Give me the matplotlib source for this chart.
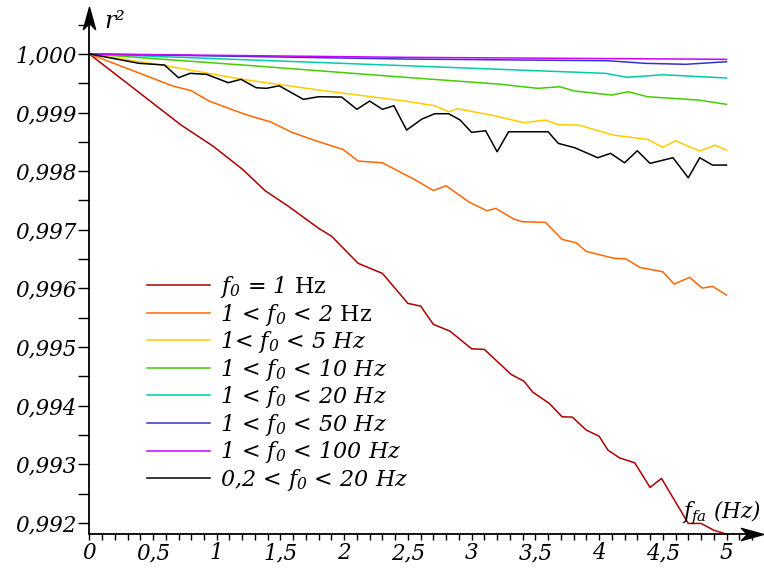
import numpy as np
import matplotlib
matplotlib.use("Agg")
import matplotlib.pyplot as plt
from matplotlib.path import Path
from matplotlib.ticker import MultipleLocator, FuncFormatter

plt.rcParams['font.family'] = 'DejaVu Serif'
plt.rcParams['font.style'] = 'italic'
plt.rcParams['mathtext.fontset'] = 'custom'
plt.rcParams['mathtext.rm'] = 'DejaVu Serif:style=italic'
plt.rcParams['mathtext.it'] = 'DejaVu Serif:style=italic'
plt.rcParams['mathtext.sf'] = 'DejaVu Serif:style=normal'

# data (x in Hz, y = r^2)
x_red = [0, 0.72, 0.97, 1.2, 1.38, 1.56, 1.8, 1.9, 2.11, 2.3, 2.5, 2.6, 2.7, 2.83, 3.0,
         3.1, 3.31, 3.41, 3.48, 3.61, 3.71, 3.79, 3.9, 4.0, 4.07, 4.16, 4.28, 4.4, 4.49,
         4.7, 4.8, 4.9, 5.0]
y_red = [1.0, 0.998787, 0.998428, 0.998036, 0.997666, 0.997404, 0.997024, 0.996892,
         0.996427, 0.996256, 0.995744, 0.995698, 0.995386, 0.995271, 0.994969, 0.994959,
         0.994532, 0.994418, 0.99423, 0.994037, 0.993809, 0.993804, 0.993582, 0.993479,
         0.99324, 0.993109, 0.993024, 0.992604, 0.992758, 0.99199, 0.99199, 0.991875,
         0.991807]

x_orange = [0, 0.65, 0.8, 0.94, 1.2, 1.31, 1.42, 1.59, 1.8, 1.99, 2.11, 2.3, 2.56, 2.7,
            2.8, 2.98, 3.12, 3.19, 3.33, 3.4, 3.58, 3.71, 3.82, 3.9, 4.12, 4.21, 4.32,
            4.5, 4.59, 4.71, 4.81, 4.89, 5.0]
y_orange = [1.0, 0.999457, 0.999372, 0.999196, 0.998986, 0.998911, 0.998843, 0.998662,
            0.998502, 0.998372, 0.998172, 0.998143, 0.997848, 0.997669, 0.997751,
            0.997473, 0.997324, 0.997365, 0.997183, 0.997137, 0.997126, 0.996836,
            0.996778, 0.996631, 0.996512, 0.996505, 0.996358, 0.996283, 0.996073,
            0.996188, 0.996005, 0.996034, 0.995886]

x_yellow = [0, 0.6, 1.2, 1.8, 2.48, 2.71, 2.82, 2.89, 3.18, 3.41, 3.58, 3.68, 3.84,
            4.11, 4.38, 4.5, 4.6, 4.79, 4.91, 5.0]
y_yellow = [1.0, 0.999799, 0.999567, 0.999384, 0.999196, 0.999116, 0.999014, 0.999065,
            0.998945, 0.998826, 0.998872, 0.998792, 0.998787, 0.998616, 0.998543,
            0.998406, 0.998519, 0.998343, 0.998445, 0.998355]

x_green = [0, 1.28, 2.48, 3.21, 3.52, 3.69, 3.81, 4.1, 4.23, 4.38, 4.78, 5.0]
y_green = [1.0, 0.999799, 0.999601, 0.999486, 0.999413, 0.99944, 0.999367, 0.999299,
           0.999355, 0.99927, 0.999213, 0.99914]

x_cyan = [0, 2.48, 4.05, 4.22, 4.5, 5.0]
y_cyan = [1.0, 0.999799, 0.999669, 0.999601, 0.999645, 0.999589]

x_blue = [0, 2.48, 4.07, 4.36, 4.68, 5.0]
y_blue = [1.0, 0.999913, 0.999884, 0.99984, 0.999823, 0.999867]

x_magenta = [0, 2.48, 5.0]
y_magenta = [1.0, 0.999942, 0.999908]

x_black = [0, 0.39, 0.59, 0.7, 0.79, 0.92, 1.09, 1.19, 1.31, 1.39, 1.49, 1.68, 1.8,
           1.98, 2.1, 2.2, 2.3, 2.39, 2.49, 2.61, 2.71, 2.82, 2.91, 3.0, 3.11, 3.2,
           3.29, 3.6, 3.68, 3.81, 3.99, 4.09, 4.2, 4.3, 4.4, 4.58, 4.7, 4.79, 4.89, 5.0]
y_black = [1.0, 0.99984, 0.999811, 0.999594, 0.999669, 0.999652, 0.999509, 0.999567,
           0.999423, 0.999413, 0.999457, 0.999225, 0.99927, 0.999264, 0.999055,
           0.999196, 0.999055, 0.999116, 0.998701, 0.998889, 0.99898, 0.99898,
           0.998872, 0.998662, 0.998689, 0.998331, 0.998672, 0.998672, 0.998474,
           0.998399, 0.998229, 0.998304, 0.998143, 0.998348, 0.998133, 0.998229,
           0.997887, 0.998229, 0.998104, 0.998104]

labels = [r'$f_0$ = 1 $\mathsf{Hz}$',
          r'1 < $f_0$ < 2 $\mathsf{Hz}$',
          r'1< $f_0$ < 5 Hz',
          r'1 < $f_0$ < 10 Hz',
          r'1 < $f_0$ < 20 Hz',
          r'1 < $f_0$ < 50 Hz',
          r'1 < $f_0$ < 100 Hz',
          r'0,2 < $f_0$ < 20 Hz']
colors = ['#aa0000', '#ff6600', '#ffcc00', '#44cc00', '#00ccaa', '#3333cc',
          '#cc00ff', '#000000']

series = [(x_red, y_red), (x_orange, y_orange), (x_yellow, y_yellow),
          (x_green, y_green), (x_cyan, y_cyan), (x_blue, y_blue),
          (x_magenta, y_magenta), (x_black, y_black)]

W, H = 764, 568
fig = plt.figure(figsize=(W / 100, H / 100), dpi=100)
ax = fig.add_axes([89.3 / W, 1 - 534 / H, (752 - 89.3) / W, (534 - 18) / H])

for (xs, ys), c, lab in zip(series, colors, labels):
    ax.plot(xs, ys, color=c, lw=1.1, label=lab)

ax.set_xlim(0, 5.2)
ax.set_ylim(0.99181, 1.000613)

for s in ['top', 'right']:
    ax.spines[s].set_visible(False)
for s in ['left', 'bottom']:
    ax.spines[s].set_linewidth(1.3)

# arrow heads on the axes
arrow = Path([(1, 0), (-1, 0.55), (-0.45, 0), (-1, -0.55), (1, 0)],
             [Path.MOVETO, Path.LINETO, Path.LINETO, Path.LINETO, Path.CLOSEPOLY])
up = Path([(0, 1), (0.55, -1), (0, -0.45), (-0.55, -1), (0, 1)],
          [Path.MOVETO, Path.LINETO, Path.LINETO, Path.LINETO, Path.CLOSEPOLY])
ax.plot(1, 0, marker=arrow, ms=16, color='black', transform=ax.transAxes, clip_on=False)
ax.plot(0, 1, marker=up, ms=16, color='black', transform=ax.transAxes, clip_on=False)

ax.xaxis.set_major_locator(MultipleLocator(0.5))
ax.xaxis.set_minor_locator(MultipleLocator(0.1))
ax.yaxis.set_major_locator(MultipleLocator(0.001))
ax.yaxis.set_minor_locator(MultipleLocator(0.0005))
ax.set_xticks([0, 0.5, 1, 1.5, 2, 2.5, 3, 3.5, 4, 4.5, 5])
ax.xaxis.set_major_formatter(FuncFormatter(lambda v, p: ('%g' % v).replace('.', ',')))
ax.yaxis.set_major_formatter(FuncFormatter(lambda v, p: ('%.3f' % v).replace('.', ',')))
ax.tick_params(axis='x', which='both', length=4, width=1, labelsize=15.5, pad=2)
ax.tick_params(axis='y', which='both', length=8, width=1, labelsize=15.5, pad=1)

fig.text(104 / W, 1 - 28 / H, 'r²', fontsize=17, va='baseline')
fig.text(682 / W, 1 - 518 / H, r'$f_{fa}$ (Hz)', fontsize=15.5, va='baseline')

ax.legend(loc='upper left', bbox_to_anchor=(147 / W, 1 - 274 / H),
          bbox_transform=fig.transFigure, frameon=False, fontsize=16,
          handlelength=2.85, handletextpad=0.45, labelspacing=0.07,
          borderpad=0, borderaxespad=0)

fig.savefig('out.png', dpi=100)
